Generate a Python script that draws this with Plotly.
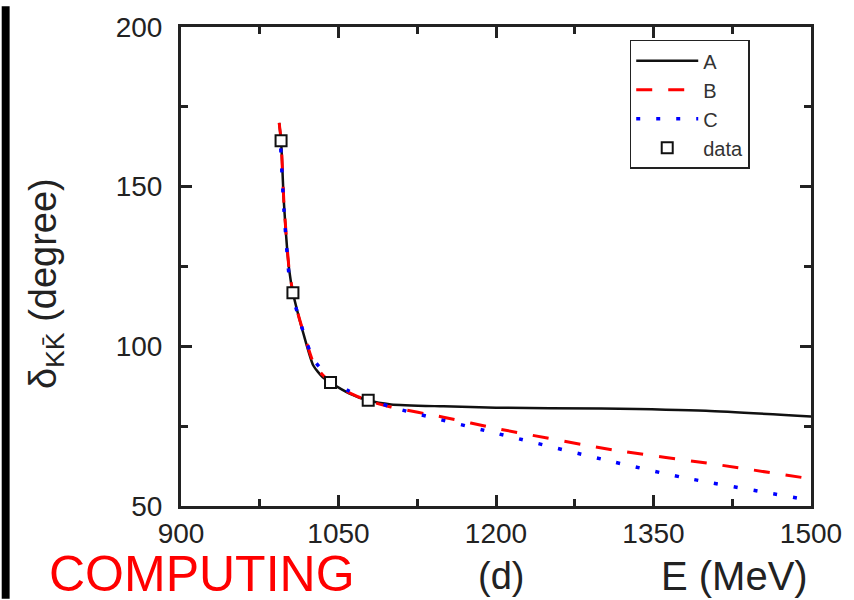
import plotly.graph_objects as go

# ---- data ----
E_A = [993.5, 995.3, 998, 1003, 1006.6, 1012, 1017, 1026, 1035, 1042, 1060, 1078, 1100, 1150, 1200, 1300, 1400, 1500]
d_A = [170, 164.4, 145, 124, 116.8, 109.5, 103.5, 94, 90.3, 88.7, 85.3, 83.1, 81.8, 81.2, 80.8, 80.5, 79.8, 78]

E_B = [993.5, 995.3, 998, 1003, 1006.6, 1012, 1017, 1026, 1035, 1042, 1060, 1078, 1100, 1150, 1200, 1311, 1410, 1500]
d_B = [170, 164.4, 145, 124, 116.8, 109.5, 104, 95, 91, 89, 85.5, 83, 81, 77.8, 74.3, 67.6, 63, 58.5]

E_C = [995, 998, 1003, 1007, 1017, 1026, 1042, 1060, 1080, 1100, 1200, 1303, 1377, 1487, 1500]
d_C = [162, 143, 122, 115, 104, 96, 90, 86, 83.5, 81, 72.8, 64.5, 59, 52.5, 51.8]

E_data = [995.3, 1006.6, 1042.4, 1078.3]
d_data = [164.4, 116.8, 88.7, 83.1]

x_ticks = [900, 1050, 1200, 1350, 1500]
y_ticks = [50, 100, 150, 200]

fig = go.Figure()
fig.add_trace(go.Scatter(x=E_A, y=d_A, mode="lines", name="A", line=dict(color="#111111", width=2.5, shape="spline", smoothing=0.6)))
fig.add_trace(go.Scatter(x=E_B, y=d_B, mode="lines", name="B", line=dict(color="#ff0000", width=3, dash="16px,16px", shape="spline", smoothing=0.6)))
fig.add_trace(go.Scatter(x=E_C, y=d_C, mode="lines", name="C", line=dict(color="#0000ff", width=3.5, dash="4px,16px", shape="spline", smoothing=0.6)))
fig.add_trace(go.Scatter(x=E_data, y=d_data, mode="markers", name="data",
                         marker=dict(symbol="square", size=11, color="white", line=dict(color="#111111", width=2))))

axis_common = dict(
    showline=True, linecolor="#222222", linewidth=3, mirror="ticks",
    ticks="inside", ticklen=11, tickwidth=2.5, tickcolor="#222222",
    showgrid=False, zeroline=False,
    tickfont=dict(family="Liberation Sans, Arial, sans-serif", size=28, color="#222222"),
)

fig.update_xaxes(range=[900, 1500], tickvals=x_ticks, ticktext=[str(v) for v in x_ticks],
                 minor=dict(ticks="inside", ticklen=7, tickwidth=2.5, tickcolor="#222222", dtick=75, showgrid=False),
                 **axis_common)
fig.update_yaxes(range=[50, 200], tickvals=y_ticks, ticktext=[str(v) for v in y_ticks],
                 minor=dict(ticks="inside", ticklen=7, tickwidth=2.5, tickcolor="#222222", dtick=25, showgrid=False),
                 ticklabelstandoff=10,
                 **axis_common)

fig.update_layout(
    width=854, height=600,
    margin=dict(l=181, r=37, t=21, b=94),
    paper_bgcolor="white", plot_bgcolor="white",
    font=dict(family="Liberation Sans, Arial, sans-serif", color="#222222"),
    legend=dict(x=(634-181)/636, y=(506-34)/485, xanchor="left", yanchor="top",
                bgcolor="white", bordercolor="#222222", borderwidth=1.5,
                font=dict(size=20, color="#333333"), itemwidth=62,
                tracegroupgap=0),
    showlegend=True,
)

# black strip on the left edge
fig.add_shape(type="rect", xref="paper", yref="paper",
              x0=-181/636, x1=-173/636, y0=-94/485, y1=1+21/485,
              fillcolor="black", line=dict(width=0), layer="above")

# y-axis title
fig.add_annotation(text="δ<sub>KK̄</sub> (degree)", xref="paper", yref="paper",
                   x=(45-181)/636, y=(506-281)/485, xanchor="center", yanchor="middle",
                   textangle=-90, showarrow=False,
                   font=dict(size=38, color="#222222"))
# bottom labels
fig.add_annotation(text="(d)", xref="paper", yref="paper",
                   x=(504-181)/636, y=(506-577)/485, xanchor="center", yanchor="middle",
                   showarrow=False, font=dict(size=38, color="#222222"))
fig.add_annotation(text="E (MeV)", xref="paper", yref="paper",
                   x=(740-181)/636, y=(506-577)/485, xanchor="center", yanchor="middle",
                   showarrow=False, font=dict(size=40, color="#222222"))
fig.add_annotation(text="COMPUTING", xref="paper", yref="paper",
                   x=(46-181)/636, y=(506-575)/485, xanchor="left", yanchor="middle",
                   showarrow=False, font=dict(size=50, color="#ff0000"))

fig.write_html("out.html")
